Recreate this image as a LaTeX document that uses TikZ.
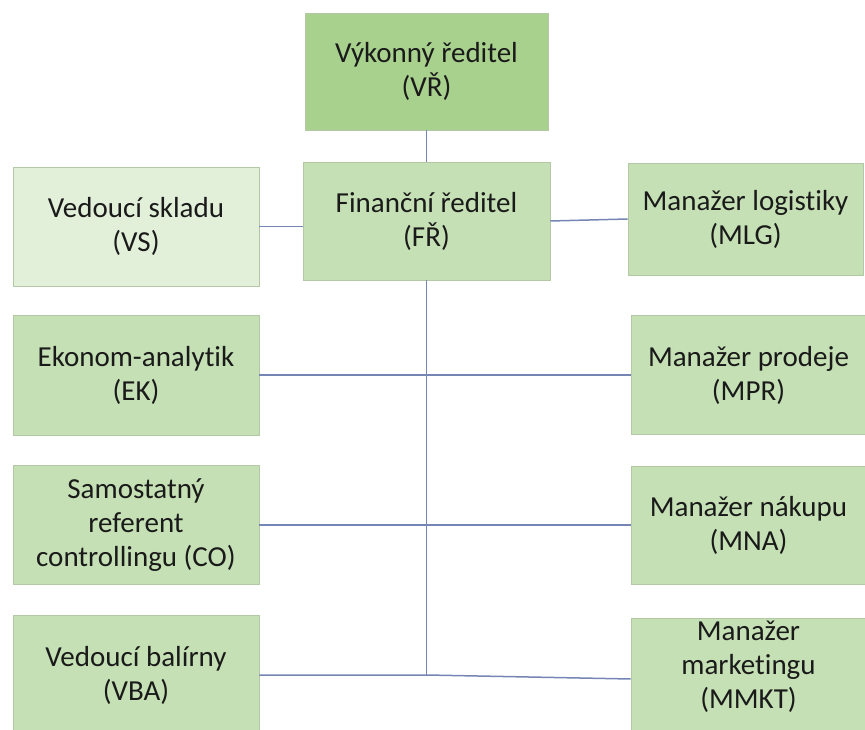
\documentclass[tikz,border=0pt]{standalone}
\usepackage{fontspec}
\setmainfont{Carlito}[Ligatures=NoCommon]
\definecolor{boxgreen}{HTML}{C5E0B4}
\definecolor{topgreen}{HTML}{A9D18E}
\definecolor{palegreen}{HTML}{E2F0D9}
\definecolor{boxedge}{HTML}{B4C8A6}
\definecolor{linkblue}{HTML}{7585B4}
\definecolor{textdark}{HTML}{1A1A1A}
\begin{document}
\begin{tikzpicture}[x=1pt,y=1pt,
  box/.style={rectangle, fill=boxgreen, draw=boxedge, line width=0.6pt,
    inner sep=0pt, align=center, text=textdark,
    font=\fontsize{29}{34}\selectfont},
  boxtext/.style={inner sep=0pt, align=center, text=textdark,
    font=\fontsize{29}{34}\selectfont},
  link/.style={draw=linkblue, line width=1.5pt}]
\useasboundingbox (0,0) rectangle (865,729);
\clip (0,0) rectangle (865,729);

% top management
\node[box, fill=topgreen, minimum width=243, minimum height=117] (VR) at (426.5,657.5)
  {Výkonný ředitel\\(VŘ)};
\node[box, minimum width=247, minimum height=118] (FR) at (426.5,508)
  {Finanční ředitel\\(FŘ)};

% left column
\node[box, fill=palegreen, minimum width=246, minimum height=119] (VS) at (136,502.5)
  {Vedoucí skladu\\(VS)};
\node[box, minimum width=246, minimum height=120] (EK) at (136,354)
  {Ekonom-analytik\\(EK)};
\node[box, minimum width=246, minimum height=119] (CO) at (136,204)
  {Samostatný\\referent\\controllingu (CO)};
\node[box, minimum width=246, minimum height=120] (VBA) at (136,54)
  {Vedoucí balírny\\(VBA)};

% right column
\node[box, minimum width=235, minimum height=112] (MLG) at (745.5,510)
  {Manažer logistiky\\(MLG)};
\node[box, minimum width=235, minimum height=119] (MPR) at (748.5,354)
  {Manažer prodeje\\(MPR)};
\node[box, minimum width=235, minimum height=118] (MNA) at (748.5,204)
  {Manažer nákupu\\(MNA)};
\node[box, minimum width=235, minimum height=122] (MMKT) at (748.5,50) {};
\node[boxtext] (MMKTtext) at ([yshift=12]MMKT.center)
  {Manažer\\marketingu\\(MMKT)};

% connectors
\coordinate (trunkend) at (FR.south |- VBA.east);
\draw[link] (VR.south) -- (FR.north);
\draw[link] (VS.east) -- (VS.east -| FR.west);
\draw[link] (FR.east) -- (MLG.west);
\draw[link] (FR.south) -- (trunkend);
\draw[link] (EK.east) -- (MPR.west);
\draw[link] (CO.east) -- (MNA.west);
\draw[link] (VBA.east) -- (trunkend) -- (MMKT.west);
\end{tikzpicture}
\end{document}
